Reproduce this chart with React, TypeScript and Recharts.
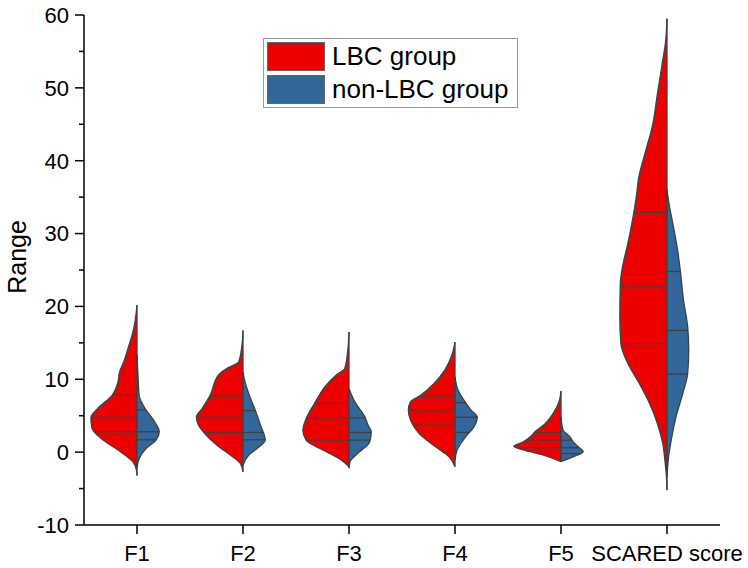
import React from "react";
import { Bar, BarChart, Curve, Legend, XAxis, YAxis } from "recharts";

const categories = ["F1", "F2", "F3", "F4", "F5", "SCARED score"];

// density outlines: [value, half-width as a share of half a category slot]
const lbcDensity: [number, number][][] = [
  [[-3.2, 0], [-2.5, 0.01], [-1.3, 0.08], [0, 0.3], [1.9, 0.68], [3.3, 0.85], [4.7, 0.87], [6, 0.74], [7.8, 0.47], [9.6, 0.36], [11, 0.33], [12.4, 0.25], [14.7, 0.15], [17, 0.06], [18.8, 0.02], [20.2, 0]],
  [[-2.7, 0], [-1.55, 0.05], [-0.4, 0.24], [0.96, 0.49], [2.8, 0.75], [3.7, 0.84], [4.85, 0.88], [6, 0.77], [7.8, 0.62], [10.6, 0.46], [11.5, 0.3], [12.4, 0.08], [15.1, 0.013], [16.7, 0]],
  [[-2, 0], [-0.9, 0.18], [0.5, 0.55], [1.65, 0.81], [3, 0.87], [4.6, 0.81], [6.7, 0.65], [9.2, 0.43], [10.6, 0.24], [11.5, 0.08], [14.2, 0.02], [16.5, 0]],
  [[-2, 0], [-0.65, 0.11], [0.7, 0.36], [2.6, 0.68], [4.4, 0.84], [5.8, 0.88], [6.9, 0.84], [7.8, 0.65], [9.4, 0.4], [11.3, 0.19], [13.5, 0.05], [15.1, 0]],
  [[-1.3, 0], [-0.4, 0.33], [0.3, 0.71], [0.8, 0.89], [1.4, 0.71], [2.1, 0.58], [2.8, 0.49], [3.9, 0.3], [5.3, 0.15], [7.1, 0.03], [8.4, 0]],
  [[-5.2, 0], [-3.4, 0.01], [-1.1, 0.04], [1.2, 0.08], [3.9, 0.18], [6.7, 0.33], [9.4, 0.52], [12.2, 0.74], [14.9, 0.87], [18.6, 0.89], [23.2, 0.88], [25.4, 0.84], [28.6, 0.74], [32.3, 0.64], [35, 0.58], [37.8, 0.53], [41.4, 0.4], [44.6, 0.28], [49.2, 0.18], [53.8, 0.08], [56.1, 0.03], [59.5, 0]],
];

const nonLbcDensity: [number, number][][] = [
  [[-2.2, 0], [-0.9, 0.04], [0.5, 0.17], [1.65, 0.36], [2.8, 0.42], [4.2, 0.33], [5.8, 0.17], [7.8, 0.04], [9.6, 0.025], [13.3, 0]],
  [[-1.8, 0], [-0.4, 0.11], [0.7, 0.3], [1.65, 0.42], [3.7, 0.33], [5.8, 0.23], [7.4, 0.14], [9.6, 0.04], [11, 0]],
  [[-2.2, 0], [-1.3, 0.02], [0.05, 0.2], [1.4, 0.39], [2.8, 0.42], [3.7, 0.36], [4.85, 0.3], [6.9, 0.11], [8.7, 0]],
  [[-1.1, 0], [0.3, 0.04], [2.1, 0.2], [3.5, 0.36], [4.8, 0.42], [5.8, 0.3], [6.9, 0.19], [8.5, 0.06], [10.3, 0]],
  [[-1.3, 0], [-0.55, 0.26], [0.05, 0.42], [0.7, 0.33], [1.4, 0.23], [2.1, 0.17], [3, 0.04], [4.85, 0]],
  [[-3.4, 0], [-0.65, 0.03], [1.65, 0.08], [4.85, 0.17], [8.1, 0.3], [10.8, 0.39], [14, 0.41], [17.2, 0.39], [20.9, 0.31], [25, 0.25], [27.7, 0.2], [31, 0.12], [34, 0.04], [36, 0]],
];

// 25th, 50th, 75th percentile lines
const lbcQuartiles = [[2.8, 4.8, 7.8], [2.7, 4.8, 7.7], [1.65, 4.7, 6.7], [3.7, 5.8, 7.7], [0.6, 1.65, 2.7], [14.9, 22.8, 32.9]];
const nonLbcQuartiles = [[1.7, 2.8, 5.8], [1.7, 2.7, 5.7], [1.65, 2.7, 4.7], [2.7, 4.8, 6.8], [-0.2, 0.6, 1.65], [10.7, 16.7, 24.8]];

const yTicks = [-10, -5, 0, 5, 10, 15, 20, 25, 30, 35, 40, 45, 50, 55, 60];

const RED = "#EE0000";
const BLUE = "#336699";
const EDGE = "#404040";

const first = (p: [number, number][]) => p[0][0];
const last = (p: [number, number][]) => p[p.length - 1][0];

const data = categories.map((name, i) => ({
  name,
  lbc: [first(lbcDensity[i]), last(lbcDensity[i])],
  nonLbc: [first(nonLbcDensity[i]), last(nonLbcDensity[i])],
}));

function widthAt(profile: [number, number][], v: number) {
  for (let k = 1; k < profile.length; k++) {
    const [v0, d0] = profile[k - 1];
    const [v1, d1] = profile[k];
    if (v >= v0 && v <= v1) return d0 + ((v - v0) / (v1 - v0)) * (d1 - d0);
  }
  return 0;
}

function HalfViolin(props: any) {
  const { x, y, width, height, payload, side, profiles, quartiles, color } = props;
  const idx = categories.indexOf(payload?.name);
  if (idx < 0) return null;
  const profile: [number, number][] = profiles[idx];
  const lo = first(profile);
  const hi = last(profile);
  const py = (v: number) => y + ((hi - v) / (hi - lo)) * height;
  const cx = x + width / 2;
  const half = width / 2;
  const points = profile.map(([v, d]) => ({ x: cx + side * d * half, y: py(v) }));
  return (
    <g>
      <Curve type="monotoneY" points={points} fill={color} stroke={EDGE} strokeWidth={1.3} />
      <line x1={cx} x2={cx} y1={py(lo)} y2={py(hi)} stroke={EDGE} strokeWidth={1.3} />
      {quartiles[idx].map((q: number) => (
        <line key={q} x1={cx} x2={cx + side * widthAt(profile, q) * half} y1={py(q)} y2={py(q)} stroke={EDGE} strokeWidth={1.3} />
      ))}
    </g>
  );
}

function YTick({ x, y, payload }: any) {
  const major = payload.value % 10 === 0;
  return (
    <g>
      <line x1={x} x2={x - (major ? 9 : 5)} y1={y} y2={y} stroke="#000" strokeWidth={1.5} />
      {major && (
        <text x={x - 15} y={y} dy="0.36em" textAnchor="end" fontSize={22} fill="#000">
          {payload.value}
        </text>
      )}
    </g>
  );
}

function RangeLabel({ viewBox }: any) {
  const cy = viewBox.y + viewBox.height / 2 - 13;
  return (
    <text x={26} y={cy} transform={`rotate(-90 26 ${cy})`} textAnchor="middle" fontSize={25} fill="#000">
      Range
    </text>
  );
}

function LegendBox({ payload }: any) {
  return (
    <div style={{ border: "1.5px solid #9a9a9a", background: "#fff", padding: "1px 3px", width: 255, boxSizing: "border-box" }}>
      {(payload || []).map((e: any) => (
        <div key={e.value} style={{ display: "flex", alignItems: "center", height: 33, whiteSpace: "nowrap" }}>
          <div style={{ width: 58, height: 29, flex: "none", background: e.color, border: "1px solid #666", boxSizing: "border-box" }} />
          <span style={{ fontSize: 26, marginLeft: 7, color: "#000", lineHeight: "29px" }}>{e.value}</span>
        </div>
      ))}
    </div>
  );
}

export default function App() {
  return (
    <div style={{ position: "absolute", left: 0, top: 0, background: "#fff", fontFamily: "'Liberation Sans', Arial, sans-serif" }}>
      <BarChart width={748} height={568} data={data} margin={{ top: 15, right: 28, bottom: 0, left: 0 }} barCategoryGap={0} barGap={0}>
        <XAxis dataKey="name" xAxisId="a" height={43} stroke="#000" strokeWidth={1.5} tickSize={9} tickMargin={11} tick={{ fontSize: 22, fill: "#000" }} interval={0} />
        <XAxis dataKey="name" xAxisId="b" hide />
        <YAxis
          type="number"
          domain={[-10, 60]}
          ticks={yTicks}
          interval={0}
          width={84}
          tickSize={0}
          tickMargin={0}
          tickLine={false}
          stroke="#000"
          strokeWidth={1.5}
          tick={<YTick />}
          label={(p: any) => <RangeLabel {...p} />}
        />
        <Legend layout="vertical" align="center" verticalAlign="middle" wrapperStyle={{ left: 263, top: 38, width: 255 }} content={<LegendBox />} />
        <Bar
          xAxisId="a"
          dataKey="lbc"
          name="LBC group"
          fill={RED}
          isAnimationActive={false}
          shape={(p: any) => <HalfViolin {...p} side={-1} profiles={lbcDensity} quartiles={lbcQuartiles} color={RED} />}
        />
        <Bar
          xAxisId="b"
          dataKey="nonLbc"
          name="non-LBC group"
          fill={BLUE}
          isAnimationActive={false}
          shape={(p: any) => <HalfViolin {...p} side={1} profiles={nonLbcDensity} quartiles={nonLbcQuartiles} color={BLUE} />}
        />
      </BarChart>
    </div>
  );
}
